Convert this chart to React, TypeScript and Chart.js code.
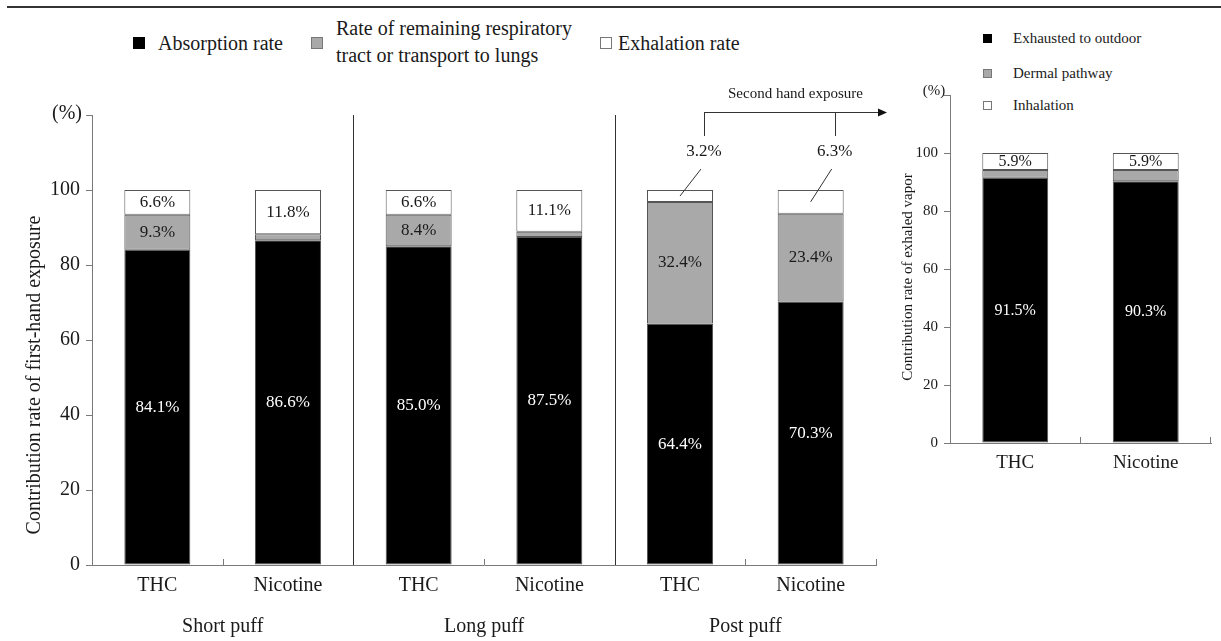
import React, { useEffect, useRef } from "react";
import { Chart, registerables } from "chart.js";
Chart.register(...registerables);

// ---------- data ----------
const categories = ["THC", "Nicotine", "THC", "Nicotine", "THC", "Nicotine"];
const groups = ["Short puff", "Long puff", "Post puff"];
const absorption = [84.1, 86.6, 85.0, 87.5, 64.4, 70.3];
const remaining = [9.3, 1.6, 8.4, 1.4, 32.4, 23.4];
const exhalation = [6.6, 11.8, 6.6, 11.1, 3.2, 6.3];
const calloutIdx = [4, 5];

const vaporCategories = ["THC", "Nicotine"];
const exhausted = [91.5, 90.3];
const dermal = [2.6, 3.8];
const inhalation = [5.9, 5.9];

const yMax = 120;
const yStep = 20;

const leftLegend = ["Absorption rate", "Rate of remaining respiratory\ntract or transport to lungs", "Exhalation rate"];
const rightLegend = ["Exhausted to outdoor", "Dermal pathway", "Inhalation"];
const leftTitle = "Contribution rate of first-hand exposure";
const rightTitle = "Contribution rate of exhaled vapor";
const secondHand = "Second hand exposure";

// ---------- styles ----------
const SERIF = "'Liberation Serif', 'Times New Roman', Times, serif";
const AXIS = "#7a7a7a";
const TEXT = "#1a1a1a";
const GREY = "#a9a9a9";
const EDGE = "#555";

const fmt = (v: number) => v.toFixed(1) + "%";

const leftDecor = {
  id: "leftDecor",
  afterDatasetsDraw(chart: any) {
    const { ctx } = chart;
    const x = chart.scales.x;
    const y = chart.scales.y;
    const n = categories.length;
    const cw = (x.right - x.left) / n;
    ctx.save();
    ctx.lineWidth = 1;
    for (let i = 1; i <= n; i++) {
      const px = Math.round(x.left + i * cw) + 0.5;
      ctx.beginPath();
      if (i % 2 === 0 && i < n) {
        ctx.strokeStyle = "#333";
        ctx.moveTo(px, y.getPixelForValue(yMax));
        ctx.lineTo(px, y.bottom);
      } else {
        ctx.strokeStyle = AXIS;
        ctx.moveTo(px, y.bottom);
        ctx.lineTo(px, y.bottom - 6);
      }
      ctx.stroke();
    }
    // value labels
    ctx.textAlign = "center";
    ctx.textBaseline = "middle";
    ctx.font = `17px ${SERIF}`;
    const y100 = y.getPixelForValue(100);
    const calloutX: number[] = [];
    for (let i = 0; i < n; i++) {
      const cx = x.getPixelForValue(i);
      ctx.fillStyle = "#fff";
      ctx.fillText(fmt(absorption[i]), cx, y.getPixelForValue(absorption[i] / 2));
      ctx.fillStyle = TEXT;
      if (remaining[i] >= 3) {
        ctx.fillText(fmt(remaining[i]), cx, y.getPixelForValue(absorption[i] + remaining[i] / 2));
      }
      const ex0 = absorption[i] + remaining[i];
      const exMid = y.getPixelForValue(ex0 + exhalation[i] / 2);
      if (calloutIdx.includes(i)) {
        const lx = cx + 24;
        calloutX.push(lx);
        ctx.strokeStyle = "#333";
        ctx.beginPath();
        ctx.moveTo(cx, exMid);
        ctx.lineTo(cx + 21, y100 - 21);
        ctx.stroke();
        ctx.fillText(fmt(exhalation[i]), lx, y100 - 38);
      } else {
        ctx.fillText(fmt(exhalation[i]), cx, exMid);
      }
    }
    // second-hand bracket
    if (calloutX.length) {
      const top = y100 - 78;
      const tip = x.right + 11;
      ctx.strokeStyle = "#333";
      ctx.beginPath();
      calloutX.forEach((lx) => {
        ctx.moveTo(Math.round(lx) + 0.5, y100 - 54);
        ctx.lineTo(Math.round(lx) + 0.5, top);
      });
      ctx.moveTo(Math.round(calloutX[0]), top + 0.5);
      ctx.lineTo(tip - 6, top + 0.5);
      ctx.stroke();
      ctx.fillStyle = "#111";
      ctx.beginPath();
      ctx.moveTo(tip, top + 0.5);
      ctx.lineTo(tip - 9, top - 3.5);
      ctx.lineTo(tip - 9, top + 4.5);
      ctx.closePath();
      ctx.fill();
      ctx.font = `15px ${SERIF}`;
      ctx.fillStyle = TEXT;
      ctx.fillText(secondHand, (calloutX[0] + tip) / 2, y100 - 96);
    }
    // group labels
    ctx.font = `20px ${SERIF}`;
    ctx.fillStyle = TEXT;
    groups.forEach((g, k) => {
      ctx.fillText(g, x.left + (2 * k + 1) * cw, y.bottom + 62);
    });
    // (%) and title
    ctx.fillText("(%)", y.left + 67, y.top - 1);
    ctx.save();
    ctx.translate(35, (y.top + y.bottom) / 2 + 35);
    ctx.rotate(-Math.PI / 2);
    ctx.fillText(leftTitle, 0, 0);
    ctx.restore();
    // top tick of y axis
    ctx.strokeStyle = AXIS;
    ctx.beginPath();
    ctx.moveTo(x.left - 6, y.top + 0.5);
    ctx.lineTo(x.left, y.top + 0.5);
    ctx.stroke();
    ctx.restore();
  },
};

const rightDecor = {
  id: "rightDecor",
  afterDatasetsDraw(chart: any) {
    const { ctx } = chart;
    const x = chart.scales.x;
    const y = chart.scales.y;
    const n = vaporCategories.length;
    const cw = (x.right - x.left) / n;
    ctx.save();
    ctx.lineWidth = 1;
    ctx.strokeStyle = AXIS;
    for (let i = 1; i <= n; i++) {
      const px = Math.round(x.left + i * cw) - 0.5;
      ctx.beginPath();
      ctx.moveTo(px, y.bottom);
      ctx.lineTo(px, y.bottom - 6);
      ctx.stroke();
    }
    ctx.beginPath();
    ctx.moveTo(x.left - 5, y.top + 0.5);
    ctx.lineTo(x.left, y.top + 0.5);
    ctx.stroke();
    ctx.textAlign = "center";
    ctx.textBaseline = "middle";
    ctx.font = `16px ${SERIF}`;
    for (let i = 0; i < n; i++) {
      const cx = x.getPixelForValue(i);
      ctx.fillStyle = "#fff";
      ctx.fillText(fmt(exhausted[i]), cx, y.getPixelForValue(exhausted[i] / 2));
      ctx.fillStyle = TEXT;
      const top0 = exhausted[i] + dermal[i];
      ctx.fillText(fmt(inhalation[i]), cx, y.getPixelForValue(top0 + inhalation[i] / 2));
    }
    ctx.font = `15px ${SERIF}`;
    ctx.fillStyle = TEXT;
    ctx.fillText("(%)", x.left - 16, y.top - 4);
    ctx.save();
    ctx.translate(x.left - 42, (y.top + y.bottom) / 2 + 8);
    ctx.rotate(-Math.PI / 2);
    ctx.fillText(rightTitle, 0, 0);
    ctx.restore();
    ctx.restore();
  },
};

function barDataset(label: string, data: number[], color: string) {
  return {
    label,
    data,
    backgroundColor: color,
    borderColor: EDGE,
    borderWidth: 1,
    borderSkipped: false,
    categoryPercentage: 1,
    barPercentage: 0.505,
  };
}

function makeOptions(opts: {
  padTop: number;
  padRight: number;
  yWidth: number;
  xHeight: number;
  yFont: number;
  xFont: number;
}) {
  return {
    responsive: false,
    maintainAspectRatio: false,
    animation: false as const,
    layout: { padding: { left: 0, top: opts.padTop, right: opts.padRight, bottom: 0 } },
    plugins: { legend: { display: false }, tooltip: { enabled: false } },
    scales: {
      x: {
        stacked: true,
        offset: true,
        grid: { drawOnChartArea: false, drawTicks: false, color: AXIS },
        border: { color: AXIS, width: 1 },
        ticks: {
          font: { family: SERIF, size: opts.xFont },
          color: TEXT,
          padding: 9,
          maxRotation: 0,
          autoSkip: false,
        },
        afterFit: (s: any) => {
          s.height = opts.xHeight;
        },
      },
      y: {
        stacked: true,
        min: 0,
        max: yMax,
        grid: { drawOnChartArea: false, drawTicks: true, tickLength: 6, color: AXIS },
        border: { color: AXIS, width: 1 },
        ticks: {
          stepSize: yStep,
          font: { family: SERIF, size: opts.yFont },
          color: TEXT,
          padding: 6,
          callback: (v: any) => (v === yMax ? "" : String(v)),
        },
        afterFit: (s: any) => {
          s.width = opts.yWidth;
        },
      },
    },
  };
}

export default function App() {
  const leftRef = useRef<HTMLCanvasElement | null>(null);
  const rightRef = useRef<HTMLCanvasElement | null>(null);

  useEffect(() => {
    const left = new Chart(leftRef.current as HTMLCanvasElement, {
      type: "bar",
      data: {
        labels: categories,
        datasets: [
          barDataset(leftLegend[0], absorption, "#000"),
          barDataset(leftLegend[1], remaining, GREY),
          barDataset(leftLegend[2], exhalation, "#fff"),
        ],
      },
      options: makeOptions({ padTop: 115, padRight: 24, yWidth: 92, xHeight: 76, yFont: 20, xFont: 20 }) as any,
      plugins: [leftDecor],
    });
    const right = new Chart(rightRef.current as HTMLCanvasElement, {
      type: "bar",
      data: {
        labels: vaporCategories,
        datasets: [
          barDataset(rightLegend[0], exhausted, "#000"),
          barDataset(rightLegend[1], dermal, GREY),
          barDataset(rightLegend[2], inhalation, "#fff"),
        ],
      },
      options: makeOptions({ padTop: 95, padRight: 10, yWidth: 70, xHeight: 198, yFont: 15, xFont: 19 }) as any,
      plugins: [rightDecor],
    });
    return () => {
      left.destroy();
      right.destroy();
    };
  }, []);

  const legendText: React.CSSProperties = {
    position: "absolute",
    fontFamily: SERIF,
    color: TEXT,
    whiteSpace: "pre",
  };
  const sq = (left: number, top: number, size: number, bg: string): React.CSSProperties => ({
    position: "absolute",
    left,
    top,
    width: size,
    height: size,
    background: bg,
    boxSizing: "border-box",
    border: bg === "#000" ? "1px solid #000" : "1px solid #777",
  });
  const leftColors = ["#000", GREY, "#fff"];
  const leftSqX = [133, 311, 600];
  const leftTxtX = [158, 336, 618];
  const rightRowY = [38, 73, 105];

  return (
    <div style={{ position: "absolute", left: 0, top: 0, width: 1221, height: 641, background: "#fff", overflow: "hidden" }}>
      <div style={{ position: "absolute", left: 7, top: 6, width: 1214, height: 2, background: "#333" }} />
      {leftLegend.map((t, i) => (
        <React.Fragment key={"l" + i}>
          <div style={sq(leftSqX[i], 37, 12, leftColors[i])} />
          <div
            style={{
              ...legendText,
              left: leftTxtX[i],
              top: t.includes("\n") ? 15 : 30,
              fontSize: 20,
              lineHeight: "27px",
            }}
          >
            {t}
          </div>
        </React.Fragment>
      ))}
      {rightLegend.map((t, i) => (
        <React.Fragment key={"r" + i}>
          <div style={sq(983, rightRowY[i] - 4, 9, leftColors[i])} />
          <div style={{ ...legendText, left: 1013, top: rightRowY[i] - 10, fontSize: 15, lineHeight: "20px" }}>{t}</div>
        </React.Fragment>
      ))}
      <canvas
        ref={leftRef}
        width={900}
        height={641}
        style={{ position: "absolute", left: 0, top: 0, width: 900, height: 641 }}
      />
      <canvas
        ref={rightRef}
        width={341}
        height={641}
        style={{ position: "absolute", left: 880, top: 0, width: 341, height: 641 }}
      />
    </div>
  );
}
